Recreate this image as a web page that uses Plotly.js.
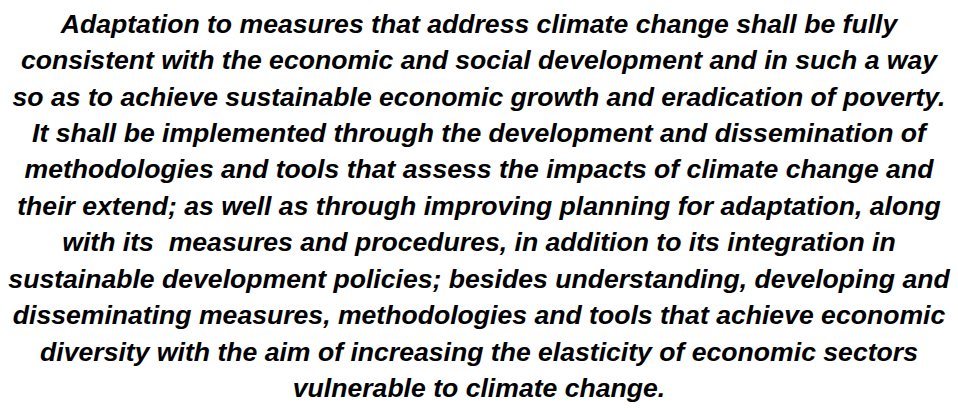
<!DOCTYPE html>
<html>
<head>
<meta charset="utf-8">
<script src="https://cdn.plot.ly/plotly-3.0.1.min.js"></script>
<style>html,body{margin:0;padding:0;background:#fff;}#chart{width:958px;height:412px;}</style>
</head>
<body>
<div id="chart"></div>
<script>
const textLines = [
  "Adaptation to measures that address climate change shall be fully",
  "consistent with the economic and social development and in such a way",
  "so as to achieve sustainable economic growth and eradication of poverty.",
  "It shall be implemented through the development and dissemination of",
  "methodologies and tools that assess the impacts of climate change and",
  "their extend; as well as through improving planning for adaptation, along",
  "with its  measures and procedures, in addition to its integration in",
  "sustainable development policies; besides understanding, developing and",
  "disseminating measures, methodologies and tools that achieve economic",
  "diversity with the aim of increasing the elasticity of economic sectors",
  "vulnerable to climate change."
];
const lineIndex = [0, 1, 2, 3, 4, 5, 6, 7, 8, 9, 10];
const xPos = lineIndex.map(() => 0);

const trace = {
  type: 'scatter',
  mode: 'text',
  x: xPos,
  y: lineIndex,
  text: textLines,
  textposition: 'middle center',
  textfont: {family: 'Liberation Sans, Arial, sans-serif', size: 26.6, color: '#000000', weight: 'bold', style: 'italic'},
  hoverinfo: 'skip',
  showlegend: false
};

const layout = {
  width: 958,
  height: 412,
  margin: {l: 0, r: 0, t: 0, b: 0},
  paper_bgcolor: '#ffffff',
  plot_bgcolor: '#ffffff',
  xaxis: {range: [-1, 1], visible: false, fixedrange: true},
  yaxis: {range: [10.589, -0.715], visible: false, fixedrange: true},
  showlegend: false
};

Plotly.newPlot('chart', [trace], layout, {displayModeBar: false, staticPlot: true});
</script>
</body>
</html>
